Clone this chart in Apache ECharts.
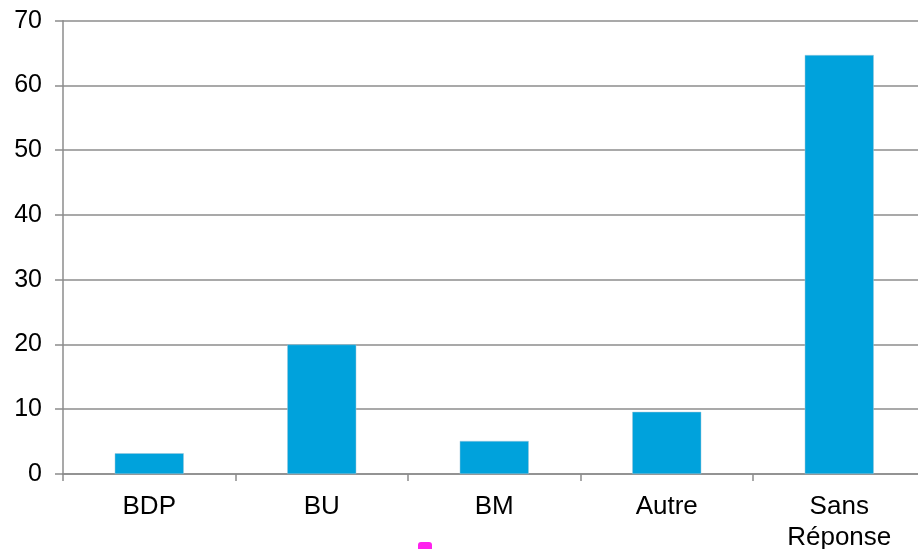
<!DOCTYPE html>
<html>
<head>
<meta charset="utf-8">
<script src="https://cdn.jsdelivr.net/npm/echarts@6/dist/echarts.min.js"></script>
<style>
  html, body { margin: 0; padding: 0; background: #fff; }
  #chart { width: 918px; height: 549px; }
</style>
</head>
<body>
<div id="chart"></div>
<script>
var categories = ['BDP', 'BU', 'BM', 'Autre', 'Sans\nRéponse'];
var values = [3.2, 20, 5.1, 9.6, 64.7];
var yTicks = [0, 10, 20, 30, 40, 50, 60, 70];

var chart = echarts.init(document.getElementById('chart'));
var axisGray = '#8c8c8c';
var option = {
  animation: false,
  grid: {
    left: 63, right: -7.5, top: 20.7, bottom: 75,
    containLabel: false, outerBoundsMode: 'none'
  },
  xAxis: {
    type: 'category',
    data: categories,
    axisLine: { lineStyle: { color: axisGray, width: 1.5 } },
    axisTick: { show: true, length: 7, lineStyle: { color: axisGray, width: 1.5 } },
    axisLabel: {
      color: '#000', fontSize: 26, fontFamily: 'Liberation Sans, Arial, sans-serif',
      margin: 17, lineHeight: 31, interval: 0
    }
  },
  yAxis: {
    type: 'value',
    min: yTicks[0],
    max: yTicks[yTicks.length - 1],
    interval: 10,
    axisLine: { show: true, lineStyle: { color: axisGray, width: 1.5 } },
    axisTick: { show: true, length: 8, lineStyle: { color: axisGray, width: 1.5 } },
    splitLine: { lineStyle: { color: axisGray, width: 1.5 } },
    axisLabel: {
      color: '#000', fontSize: 25, fontFamily: 'Liberation Sans, Arial, sans-serif',
      margin: 21
    }
  },
  series: [{
    type: 'bar',
    data: values,
    barWidth: '40%',
    itemStyle: { color: '#00a2dc', borderColor: '#9fc6d8', borderWidth: 0.5 }
  }],
  graphic: [{
    type: 'rect',
    shape: { x: 418, y: 542, width: 14, height: 12, r: 3 },
    style: { fill: '#ff22ee' }
  }]
};
chart.setOption(option);
</script>
</body>
</html>
